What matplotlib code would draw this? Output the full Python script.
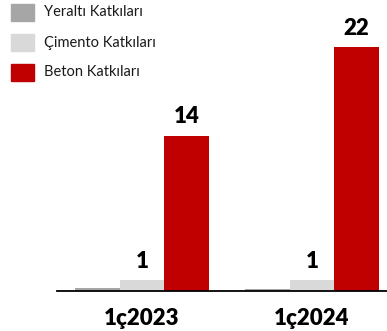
import matplotlib
matplotlib.use("Agg")
import matplotlib.pyplot as plt
import numpy as np

plt.rcParams['font.family'] = ['Lato', 'DejaVu Sans']

categories = ["1ç2023", "1ç2024"]
series_names = ["Yeraltı Katkıları", "Çimento Katkıları", "Beton Katkıları"]
yeralti = [0.3, 0.2]
cimento = [1, 1]
beton = [14, 22]
colors = ["#A6A6A6", "#D9D9D9", "#C00000"]

W, H, DPI = 387, 331, 100
fig = plt.figure(figsize=(W / DPI, H / DPI), dpi=DPI)

# axes spans beyond the right edge so the baseline runs off the figure
left_px, right_px, base_px, top_px = 57, 397, 291, 27
ax = fig.add_axes([left_px / W, (H - base_px) / H,
                   (right_px - left_px) / W, (base_px - top_px) / H])

x = np.arange(len(categories))
bw = 0.263
data = [yeralti, cimento, beton]
for i, (vals, c) in enumerate(zip(data, colors)):
    ax.bar(x + (i - 1) * bw, vals, width=bw, color=c, edgecolor='none')

# value labels on the cement and concrete bars
for xi, v in zip(x, cimento):
    ax.annotate(f"{v:g}", (xi, v), xytext=(0, 6), textcoords='offset points',
                ha='center', va='bottom', fontsize=16, fontweight='heavy')
for xi, v in zip(x + bw, beton):
    ax.annotate(f"{v:g}", (xi, v), xytext=(0, 6), textcoords='offset points',
                ha='center', va='bottom', fontsize=16, fontweight='heavy')

ax.set_xlim(-0.5, 1.5)
ax.set_ylim(0, 23.8)
ax.set_xticks(x)
ax.set_xticklabels(categories, fontsize=16, fontweight='heavy')
ax.tick_params(axis='x', length=0, pad=12)
ax.set_yticks([])
for s in ['left', 'right', 'top']:
    ax.spines[s].set_visible(False)
ax.spines['bottom'].set_linewidth(1.3)
ax.spines['bottom'].set_color('black')
ax.patch.set_visible(False)

# legend drawn as swatches with labels in figure pixels
for k, (name, c) in enumerate(zip(series_names, colors)):
    y0 = 4 + 30 * k
    fig.patches.append(plt.Rectangle((11 / W, 1 - (y0 + 17) / H), 23 / W, 17 / H,
                                     transform=fig.transFigure, color=c))
    fig.text(44 / W, 1 - (y0 + 8.5) / H, name, fontsize=10.5, va='center',
             ha='left', color='#1a1a1a')

fig.savefig("out.png", dpi=DPI)
